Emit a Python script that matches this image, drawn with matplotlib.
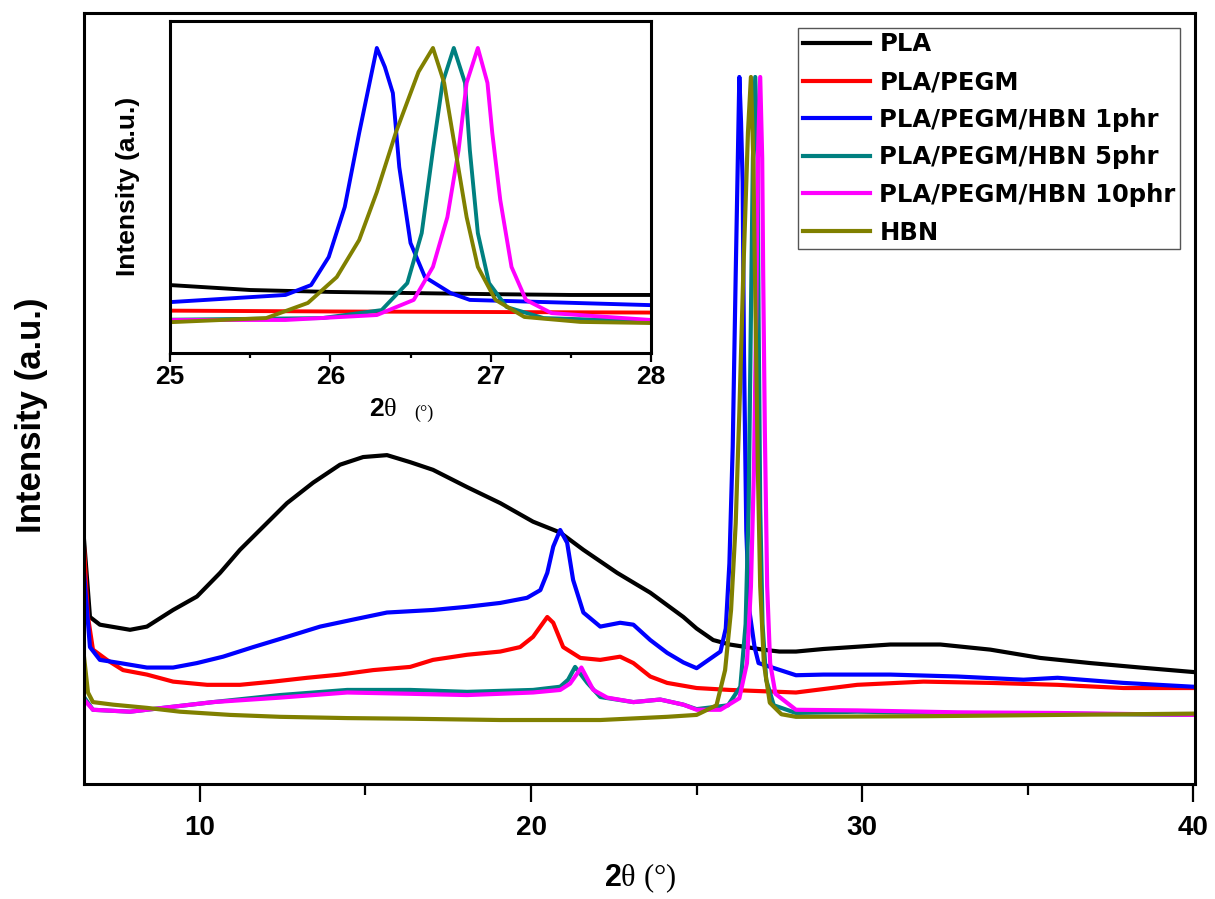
import matplotlib
matplotlib.use("Agg")
import matplotlib.pyplot as plt
from matplotlib.ticker import MultipleLocator

# XRD patterns, normalised so the h-BN (002) peak = 100
pla_x = [6.50, 6.68, 6.98, 7.89, 8.40, 9.19, 9.91, 10.61, 11.21, 11.91,
         12.63, 13.42, 14.23, 14.93, 15.65, 16.35, 17.04, 18.07, 19.07, 20.06,
         20.88, 21.58, 22.60, 23.60, 24.60, 25.00, 25.50, 26.00, 26.50, 27.00,
         27.50, 28.00, 28.83, 30.85, 32.36, 33.87, 35.38, 36.89, 38.40, 40.00]
pla_y = [27.7, 15.6, 14.4, 13.6, 14.1, 16.7, 18.8, 22.5, 26.1, 29.7,
         33.4, 36.6, 39.4, 40.6, 40.9, 39.8, 38.6, 35.9, 33.4, 30.5,
         28.8, 26.1, 22.5, 19.4, 15.6, 13.8, 12.0, 11.3, 10.9, 10.5,
         10.2, 10.2, 10.6, 11.3, 11.3, 10.5, 9.2, 8.4, 7.7, 7.0]

pegm_x = [6.50, 6.62, 6.77, 7.19, 7.68, 8.40, 9.19, 10.22, 11.21, 12.21,
          13.24, 14.23, 15.23, 16.35, 17.04, 18.07, 19.07, 19.67, 20.06, 20.49,
          20.67, 20.97, 21.49, 22.09, 22.69, 23.09, 23.60, 24.11, 25.00, 26.00,
          27.00, 28.00, 29.85, 31.85, 33.87, 35.90, 37.89, 40.00]
pegm_y = [26.6, 15.6, 10.5, 8.9, 7.3, 6.6, 5.5, 5.0, 5.0, 5.5,
          6.1, 6.6, 7.3, 7.8, 8.9, 9.7, 10.2, 10.9, 12.5, 15.6,
          14.7, 10.9, 9.2, 8.9, 9.4, 8.4, 6.3, 5.3, 4.5, 4.2,
          4.0, 3.8, 5.0, 5.5, 5.3, 5.0, 4.5, 4.5]

hbn1_x = [6.50, 6.68, 6.98, 7.59, 8.40, 9.19, 9.91, 10.70, 11.61, 12.63,
          13.63, 14.63, 15.65, 17.04, 18.07, 19.07, 19.88, 20.28, 20.49, 20.67,
          20.88, 21.09, 21.27, 21.58, 22.09, 22.69, 23.09, 23.60, 24.11, 24.60,
          25.00, 25.72, 25.88, 25.99, 26.09, 26.18, 26.29, 26.34, 26.39, 26.43,
          26.50, 26.59, 26.75, 26.87, 28.00, 28.83, 30.85, 32.87, 34.87, 35.90,
          37.89, 40.00]
hbn1_y = [22.5, 10.9, 8.9, 8.4, 7.7, 7.7, 8.4, 9.4, 10.9, 12.5,
          14.1, 15.2, 16.3, 16.7, 17.2, 17.8, 18.6, 19.8, 22.5, 26.6,
          29.2, 27.2, 21.4, 16.3, 14.1, 14.7, 14.4, 12.0, 10.0, 8.5,
          7.6, 10.2, 13.8, 24.0, 42.2, 69.1, 100.0, 93.1, 83.6, 56.7,
          29.1, 16.7, 10.9, 8.4, 6.5, 6.6, 6.6, 6.3, 5.8, 6.1,
          5.3, 4.7]

hbn5_x = [6.50, 6.77, 7.89, 8.89, 10.40, 12.42, 14.45, 16.35, 18.07, 20.06,
          20.88, 21.12, 21.33, 21.70, 22.09, 23.09, 23.90, 24.60, 25.00, 25.95,
          26.32, 26.48, 26.57, 26.64, 26.70, 26.77, 26.84, 26.87, 26.92, 26.99,
          27.10, 27.33, 28.00, 29.85, 32.87, 35.90, 40.00]
hbn5_y = [3.1, 1.1, 0.8, 1.4, 2.3, 3.4, 4.2, 4.2, 3.9, 4.2,
          4.7, 5.8, 7.8, 5.3, 3.1, 2.3, 2.7, 1.9, 1.2, 1.8,
          4.7, 14.5, 32.7, 62.9, 87.3, 100.0, 87.3, 62.9, 32.7, 14.5,
          5.8, 1.8, 0.6, 0.8, 0.6, 0.5, 0.3]

hbn10_x = [6.50, 6.77, 7.89, 8.89, 10.40, 12.42, 14.45, 16.35, 18.07, 20.06,
           20.88, 21.18, 21.52, 21.88, 22.30, 23.09, 23.90, 24.60, 25.00, 25.72,
           26.29, 26.52, 26.64, 26.73, 26.80, 26.85, 26.92, 26.98, 27.01, 27.06,
           27.13, 27.22, 27.38, 28.00, 29.85, 32.87, 35.90, 40.00]
hbn10_y = [2.7, 1.1, 0.8, 1.4, 2.3, 3.0, 3.8, 3.6, 3.4, 3.8,
           4.2, 5.2, 7.7, 4.2, 3.0, 2.3, 2.7, 1.9, 1.1, 1.1,
           2.9, 8.4, 20.4, 38.5, 62.9, 87.3, 100.0, 87.3, 69.1, 44.7,
           20.4, 8.4, 3.6, 1.1, 1.0, 0.7, 0.6, 0.3]

hbn_x = [6.50, 6.62, 6.77, 7.38, 8.40, 9.40, 10.91, 12.42, 14.45, 16.35,
         19.07, 22.09, 24.11, 25.00, 25.60, 25.86, 26.04, 26.18, 26.29, 26.41,
         26.55, 26.64, 26.71, 26.78, 26.85, 26.92, 27.03, 27.21, 27.56, 28.00,
         32.00, 36.00, 40.00]
hbn_y = [9.4, 3.8, 2.3, 1.9, 1.4, 0.8, 0.3, 0.0, -0.2, -0.3,
         -0.5, -0.5, 0.0, 0.3, 1.8, 7.3, 16.7, 30.2, 47.6, 69.5,
         91.3, 100.0, 87.3, 62.9, 38.5, 20.4, 8.4, 2.2, 0.4, 0.0,
         0.1, 0.3, 0.5]

labels = ["PLA", "PLA/PEGM", "PLA/PEGM/HBN 1phr", "PLA/PEGM/HBN 5phr",
          "PLA/PEGM/HBN 10phr", "HBN"]
colors = ["#000000", "#FF0000", "#0000FF", "#008080", "#FF00FF", "#808000"]
series = [(pla_x, pla_y), (pegm_x, pegm_y), (hbn1_x, hbn1_y),
          (hbn5_x, hbn5_y), (hbn10_x, hbn10_y), (hbn_x, hbn_y)]

plt.rcParams["mathtext.fontset"] = "custom"
plt.rcParams["mathtext.rm"] = "Liberation Serif"
plt.rcParams["mathtext.bf"] = "Liberation Sans:bold"

W, H = 1215, 899
fig = plt.figure(figsize=(W / 100, H / 100), dpi=100)


def px_axes(left, top, right, bottom):
    return [left / W, 1 - bottom / H, (right - left) / W, (bottom - top) / H]


ax = fig.add_axes(px_axes(84, 13, 1195, 784))
for (x, y), lab, c in zip(series, labels, colors):
    ax.plot(x, y, color=c, lw=3.0, label=lab, solid_joinstyle="round")

ax.set_xlim(6.5, 40.05)
ax.set_ylim(-10.5, 110)
ax.set_yticks([])
ax.xaxis.set_major_locator(MultipleLocator(10))
ax.xaxis.set_minor_locator(MultipleLocator(5))
ax.tick_params(axis="x", which="major", direction="out", length=13,
               width=1.6, pad=9)
ax.tick_params(axis="x", which="minor", direction="out", length=8, width=1.6)
for lbl in ax.get_xticklabels():
    lbl.set_family("Liberation Sans")
    lbl.set_fontweight("bold")
    lbl.set_fontsize(20)
for sp in ax.spines.values():
    sp.set_linewidth(2.2)

leg = ax.legend(loc="upper right", fancybox=False, framealpha=1,
                edgecolor="#555555", borderaxespad=0.6, borderpad=0.2,
                handlelength=2.75, handletextpad=0.4, labelspacing=0.56,
                prop={"family": "DejaVu Sans", "weight": "bold", "size": 17.5})
leg.get_frame().set_linewidth(1.0)

fig.text(32 / W, 1 - 415 / H, "Intensity (a.u.)", rotation=90,
         ha="center", va="center", family="Liberation Sans",
         fontweight="bold", fontsize=25)
fig.text(640 / W, 1 - 878 / H, r"$\mathbf{2}$θ (°)", ha="center",
         va="center", family="Liberation Serif", fontsize=22)

# inset: zoom on the h-BN (002) reflection
axi = fig.add_axes(px_axes(170, 21, 651, 353))
for (x, y), c in zip(series, colors):
    axi.plot(x, y, color=c, lw=2.8, solid_joinstyle="round")
axi.set_xlim(25, 28)
axi.set_ylim(-10.9, 109.8)
axi.set_yticks([])
axi.xaxis.set_major_locator(MultipleLocator(1))
axi.xaxis.set_minor_locator(MultipleLocator(0.5))
axi.tick_params(axis="x", which="major", direction="out", length=6.5,
                width=1.6, pad=2)
axi.tick_params(axis="x", which="minor", direction="out", length=3.6,
                width=1.6)
for lbl in axi.get_xticklabels():
    lbl.set_family("Liberation Sans")
    lbl.set_fontweight("bold")
    lbl.set_fontsize(19)
for sp in axi.spines.values():
    sp.set_linewidth(2.2)

fig.text(128 / W, 1 - 186 / H, "Intensity (a.u.)", rotation=90,
         ha="center", va="center", family="Liberation Sans",
         fontweight="bold", fontsize=19)
fig.text(383 / W, 1 - 410 / H, r"$\mathbf{2}$θ", ha="center", va="center",
         family="Liberation Serif", fontsize=19)
fig.text(424 / W, 1 - 413 / H, "(°)", ha="center", va="center",
         family="Liberation Serif", fontsize=13)

fig.savefig("out.png", dpi=100, facecolor="white")
